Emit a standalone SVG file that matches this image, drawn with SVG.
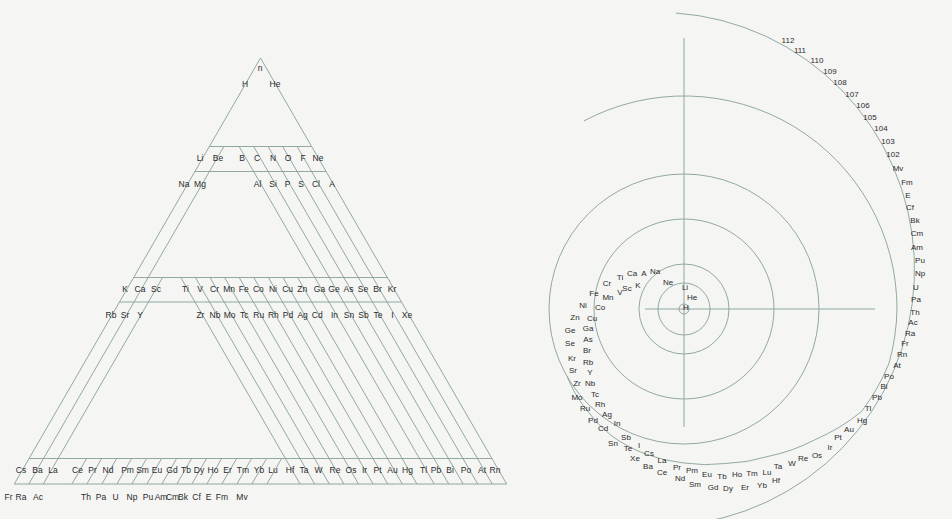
<svg xmlns="http://www.w3.org/2000/svg" width="952" height="519" viewBox="0 0 952 519">
<style>
.ln{stroke:#86a097;stroke-width:0.9;fill:none}
.t{font-family:"Liberation Sans",Arial,sans-serif;font-size:8.5px;fill:#2b2b2b;text-anchor:middle}
.s{font-family:"Liberation Sans",Arial,sans-serif;font-size:8px;fill:#2b2b2b;text-anchor:middle}
</style>
<rect width="952" height="519" fill="#f5f5f3"/>
<g id="triangle-lines" class="ln">
<path d="M260.5 58L14.3 484M260.5 58L506.7 484"/>
<path d="M209.35 146.5H311.65M194.9 171.5H326.1M133.6 277.5H387.4M119.5 302H401.5M29 458.5H492M14.3 484H506.7"/>
<path d="M223.85 146.5L28.8 484M162.6 277.5L43.3 484"/>
<path d="M297.15 146.5L492.2 484M282.65 146.5L477.7 484M268.15 146.5L463.2 484M253.65 146.5L448.7 484M239.15 146.5L434.2 484"/>
<path d="M180.8 277.5L300.1 484M195.4 277.5L314.7 484M210 277.5L329.3 484M224.6 277.5L343.9 484M239.2 277.5L358.5 484M253.8 277.5L373.1 484M268.4 277.5L387.7 484M283 277.5L402.3 484M297.6 277.5L416.9 484"/>
<path d="M86.6 458.5L71.9 484M101.6 458.5L86.9 484M116.6 458.5L101.9 484M131.6 458.5L116.9 484M146.6 458.5L131.9 484M161.6 458.5L146.9 484M176.6 458.5L161.9 484M191.6 458.5L176.9 484M206.6 458.5L191.9 484M221.6 458.5L206.9 484M236.6 458.5L221.9 484M251.6 458.5L236.9 484M266.6 458.5L251.9 484M281.6 458.5L266.9 484"/>
</g>
<g id="period1" class="t">
<text x="260" y="71">n</text><text x="245" y="87">H</text><text x="275" y="87">He</text>
</g>
<g id="period2" class="t">
<text x="200" y="161">Li</text><text x="218" y="161">Be</text><text x="242" y="161">B</text><text x="257" y="161">C</text><text x="273" y="161">N</text><text x="288" y="161">O</text><text x="303" y="161">F</text><text x="318" y="161">Ne</text>
</g>
<g id="period3" class="t">
<text x="184" y="187">Na</text><text x="200" y="187">Mg</text><text x="257.5" y="187">Al</text><text x="273" y="187">Si</text><text x="287.5" y="187">P</text><text x="301" y="187">S</text><text x="316" y="187">Cl</text><text x="332" y="187">A</text>
</g>
<g id="period4" class="t">
<text x="125" y="292">K</text><text x="140" y="292">Ca</text><text x="156" y="292">Sc</text><text x="185.4" y="292">Ti</text><text x="200" y="292">V</text><text x="214.6" y="292">Cr</text><text x="229.2" y="292">Mn</text><text x="243.8" y="292">Fe</text><text x="258.4" y="292">Co</text><text x="273" y="292">Ni</text><text x="287.6" y="292">Cu</text><text x="302.2" y="292">Zn</text><text x="319.5" y="292">Ga</text><text x="334" y="292">Ge</text><text x="348.5" y="292">As</text><text x="363" y="292">Se</text><text x="377.5" y="292">Br</text><text x="392" y="292">Kr</text>
</g>
<g id="period5" class="t">
<text x="111" y="318">Rb</text><text x="125" y="318">Sr</text><text x="140" y="318">Y</text><text x="200.4" y="318">Zr</text><text x="215" y="318">Nb</text><text x="229.6" y="318">Mo</text><text x="244.2" y="318">Tc</text><text x="258.8" y="318">Ru</text><text x="273.4" y="318">Rh</text><text x="288" y="318">Pd</text><text x="302.6" y="318">Ag</text><text x="317.2" y="318">Cd</text><text x="334.5" y="318">In</text><text x="349" y="318">Sn</text><text x="363.5" y="318">Sb</text><text x="378" y="318">Te</text><text x="392.5" y="318">I</text><text x="407" y="318">Xe</text>
</g>
<g id="period6" class="t">
<text x="21" y="473">Cs</text><text x="37.5" y="473">Ba</text><text x="53" y="473">La</text><text x="77.5" y="473">Ce</text><text x="92.5" y="473">Pr</text><text x="108" y="473">Nd</text><text x="127.5" y="473">Pm</text><text x="142.5" y="473">Sm</text><text x="157" y="473">Eu</text><text x="172" y="473">Gd</text><text x="186" y="473">Tb</text><text x="199" y="473">Dy</text><text x="213" y="473">Ho</text><text x="227.5" y="473">Er</text><text x="243" y="473">Tm</text><text x="259" y="473">Yb</text><text x="273" y="473">Lu</text><text x="290" y="473">Hf</text><text x="304" y="473">Ta</text><text x="318.5" y="473">W</text><text x="335" y="473">Re</text><text x="351" y="473">Os</text><text x="364.5" y="473">Ir</text><text x="377.5" y="473">Pt</text><text x="392.5" y="473">Au</text><text x="407.5" y="473">Hg</text><text x="423.5" y="473">Tl</text><text x="436" y="473">Pb</text><text x="450" y="473">Bi</text><text x="466" y="473">Po</text><text x="482" y="473">At</text><text x="495" y="473">Rn</text>
</g>
<g id="period7" class="t">
<text x="8.5" y="500">Fr</text><text x="21" y="500">Ra</text><text x="38" y="500">Ac</text><text x="86" y="500">Th</text><text x="101" y="500">Pa</text><text x="115.5" y="500">U</text><text x="132" y="500">Np</text><text x="148" y="500">Pu</text><text x="161" y="500">Am</text><text x="172.5" y="500">Cm</text><text x="183" y="500">Bk</text><text x="196.5" y="500">Cf</text><text x="208.5" y="500">E</text><text x="222" y="500">Fm</text><text x="242" y="500">Mv</text>
</g>
<g id="spiral-lines" class="ln">
<path d="M684 38V427M645 309H875"/>
<circle cx="684" cy="309" r="5"/><circle cx="684" cy="309" r="26"/><circle cx="684" cy="309" r="45"/><circle cx="684" cy="309" r="90"/><circle cx="684" cy="309" r="135"/>
<path d="M567.1 376.5A137 137 0 0 0 585 408A143 143 0 0 0 611 435.4A148 148 0 0 0 645.2 453.9A152 152 0 0 0 684 463A157 157 0 0 0 725.4 463.5A165 165 0 0 0 769 456.2A177 177 0 0 0 814.8 439.8A195 195 0 0 0 861.5 411.5A208 208 0 0 0 888.8 363.9A212 212 0 0 0 897 309A213 213 0 0 0 584 120.9"/>
<path d="M676 13A257 257 0 0 1 700 522.8"/>
</g>
<g id="spiral-labels" class="s">
<text x="686" y="310">H</text><text x="692" y="300">He</text><text x="685" y="290">Li</text><text x="668" y="285">Ne</text><text x="655" y="274">Na</text><text x="644" y="276">A</text><text x="632" y="276">Ca</text><text x="620" y="280">Ti</text><text x="638" y="288">K</text><text x="627" y="291">Sc</text><text x="620" y="295">V</text><text x="607" y="286">Cr</text><text x="608" y="300">Mn</text><text x="594" y="296">Fe</text><text x="600" y="310">Co</text><text x="583" y="308">Ni</text><text x="592" y="321">Cu</text><text x="575" y="320">Zn</text><text x="588" y="331">Ga</text><text x="570" y="333">Ge</text><text x="588" y="342">As</text><text x="570" y="346">Se</text><text x="587" y="353">Br</text><text x="572" y="361">Kr</text><text x="588" y="365">Rb</text><text x="573" y="373">Sr</text><text x="590" y="375">Y</text><text x="577" y="386">Zr</text><text x="590" y="386">Nb</text><text x="577" y="400">Mo</text><text x="595" y="397">Tc</text><text x="585" y="411">Ru</text><text x="600" y="407">Rh</text><text x="593" y="423">Pd</text><text x="607" y="417">Ag</text><text x="603" y="431">Cd</text><text x="617" y="426">In</text><text x="626" y="440">Sb</text><text x="613" y="446">Sn</text><text x="628" y="451">Te</text><text x="639" y="448">I</text><text x="649" y="456">Cs</text><text x="635" y="461">Xe</text><text x="662" y="463">La</text><text x="648" y="469">Ba</text><text x="677" y="470">Pr</text><text x="662" y="475">Ce</text><text x="692" y="473">Pm</text><text x="680" y="481">Nd</text><text x="707" y="477">Eu</text><text x="695" y="487">Sm</text><text x="722" y="479">Tb</text><text x="713" y="490">Gd</text><text x="737" y="477">Ho</text><text x="728" y="491">Dy</text><text x="752" y="476">Tm</text><text x="745" y="490">Er</text><text x="767" y="475">Lu</text><text x="762" y="488">Yb</text><text x="778" y="469">Ta</text><text x="776" y="483">Hf</text><text x="792" y="466">W</text><text x="803" y="461">Re</text><text x="817" y="458">Os</text><text x="830" y="450">Ir</text><text x="838" y="440">Pt</text><text x="849" y="432">Au</text><text x="862" y="423">Hg</text><text x="868" y="411">Tl</text><text x="877" y="400">Pb</text><text x="884" y="389">Bi</text><text x="889" y="379">Po</text><text x="897" y="368">At</text><text x="902" y="357">Rn</text><text x="905" y="346">Fr</text><text x="910" y="336">Ra</text><text x="913" y="325">Ac</text><text x="915" y="315">Th</text><text x="916" y="302">Pa</text><text x="916" y="290">U</text><text x="920" y="276">Np</text><text x="920" y="263">Pu</text><text x="917" y="250">Am</text><text x="917" y="236">Cm</text><text x="915" y="223">Bk</text><text x="910" y="210">Cf</text><text x="908" y="198">E</text><text x="907" y="185">Fm</text><text x="898" y="171">Mv</text><text x="893" y="157">102</text><text x="888" y="144">103</text><text x="881" y="131">104</text><text x="870" y="120">105</text><text x="863" y="108">106</text><text x="852" y="97">107</text><text x="840" y="85">108</text><text x="830" y="74">109</text><text x="817" y="63">110</text><text x="800" y="53">111</text><text x="788" y="43">112</text>
</g>
</svg>
